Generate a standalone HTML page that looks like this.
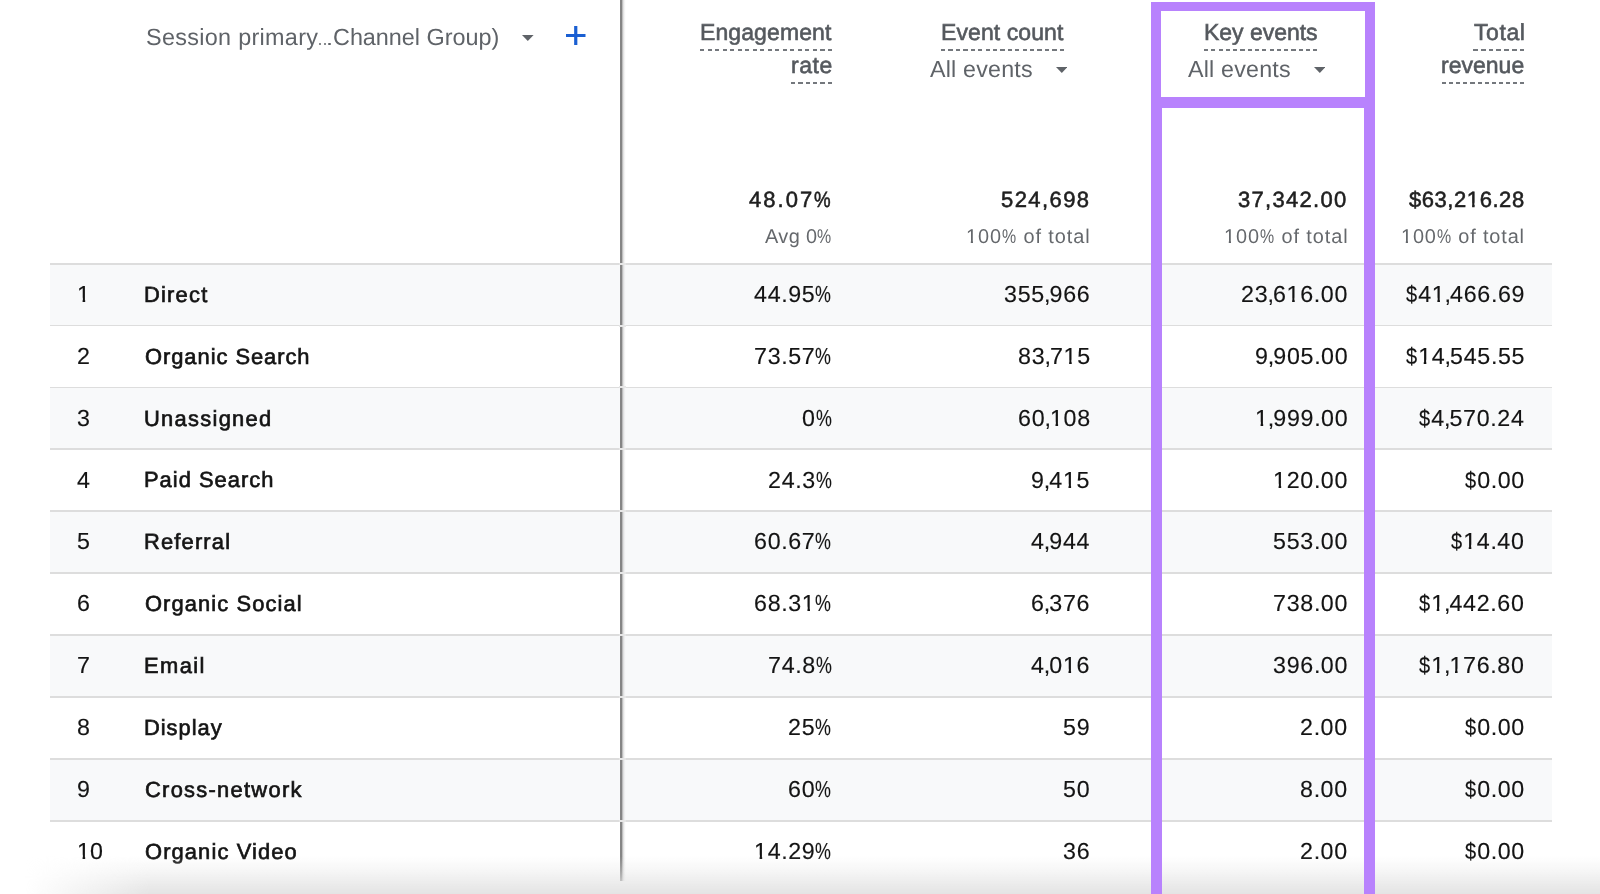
<!DOCTYPE html>
<html><head><meta charset="utf-8"><title>GA table</title>
<style>
html,body{margin:0;padding:0;background:#fff;}
html{overflow:hidden;width:1600px;height:894px;}
body{width:1600px;height:894px;overflow:hidden;position:relative;font-family:"Liberation Sans",sans-serif;text-rendering:geometricPrecision;}
.t{position:absolute;white-space:nowrap;line-height:normal;will-change:transform;}
.hdr{color:#55595e;-webkit-text-stroke:0.6px #55595e;}
.dim{color:#5f6368;}
.allev{color:#5f6368;}
.num{color:#141414;-webkit-text-stroke:0.15px #141414;}
.name{color:#141414;-webkit-text-stroke:0.65px #141414;}
.idx{color:#141414;-webkit-text-stroke:0.15px #141414;}
.tot{color:#1f1f1f;-webkit-text-stroke:0.55px #1f1f1f;}
.sub{color:#65686c;}
.pc{display:inline-block;}
.dl{display:inline-block;}
.dl span{display:inline-block;transform:scaleX(0.86);transform-origin:0 50%;}
.one{display:inline-block;clip-path:polygon(0 0,100% 0,100% 0.72em,0.352em 0.72em,0.352em 100%,0.240em 100%,0.240em 0.72em,0 0.72em);}
.pc span{display:inline-block;transform-origin:0 50%;}
.pcs{display:inline-block;transform-origin:0 50%;}
.dash{position:absolute;height:2.2px;}
.ic{position:absolute;display:block;}
.dot{position:absolute;width:2.7px;height:2.7px;border-radius:50%;background:#5f6368;}
.row{position:absolute;left:50px;width:1501.5px;}
.rb{position:absolute;left:50px;width:1501.5px;height:1.8px;background:#dddddd;}
.vdiv{position:absolute;left:619.8px;top:0;width:2px;height:881px;background:#858585;}
.vsh{position:absolute;left:621.8px;top:0;width:4.5px;height:881px;background:linear-gradient(90deg,rgba(150,150,150,.8),rgba(200,200,200,.45) 40%,rgba(235,235,235,.2) 75%,rgba(255,255,255,0));}
.gap{position:absolute;left:619px;width:7px;height:2px;background:#e6e6e6;}
.pb{position:absolute;background:#b882fd;}
.btm{position:absolute;left:0;top:856px;width:1600px;height:38px;background:linear-gradient(180deg,rgba(228,228,228,0) 0%,rgba(228,228,228,0.35) 40%,rgba(228,228,228,0.8) 80%,rgba(228,228,228,1) 100%);-webkit-mask-image:linear-gradient(90deg,transparent 25px,#000 150px);mask-image:linear-gradient(90deg,transparent 25px,#000 150px);}
</style></head><body>
<div class="row" style="top:263.70px;height:61.88px;background:#f8f9fa"></div>
<div class="row" style="top:325.58px;height:61.88px;background:#ffffff"></div>
<div class="row" style="top:387.46px;height:61.88px;background:#f8f9fa"></div>
<div class="row" style="top:449.34px;height:61.88px;background:#ffffff"></div>
<div class="row" style="top:511.22px;height:61.88px;background:#f8f9fa"></div>
<div class="row" style="top:573.10px;height:61.88px;background:#ffffff"></div>
<div class="row" style="top:634.98px;height:61.88px;background:#f8f9fa"></div>
<div class="row" style="top:696.86px;height:61.88px;background:#ffffff"></div>
<div class="row" style="top:758.74px;height:61.88px;background:#f8f9fa"></div>
<div class="row" style="top:820.62px;height:73.38px;background:#ffffff"></div>
<div class="rb" style="top:262.80px"></div>
<div class="rb" style="top:324.68px"></div>
<div class="rb" style="top:386.56px"></div>
<div class="rb" style="top:448.44px"></div>
<div class="rb" style="top:510.32px"></div>
<div class="rb" style="top:572.20px"></div>
<div class="rb" style="top:634.08px"></div>
<div class="rb" style="top:695.96px"></div>
<div class="rb" style="top:757.84px"></div>
<div class="rb" style="top:819.72px"></div>
<div id="sess1" class="t dim" style="left:145.56px;top:23.82px;font-size:23.4px;letter-spacing:0.303px">Session primary</div>
<div class="dot" style="left:318.65px;top:42.75px"></div>
<div class="dot" style="left:323.55px;top:42.75px"></div>
<div class="dot" style="left:328.40px;top:42.75px"></div>
<div id="sess2" class="t dim" style="left:332.67px;top:23.82px;font-size:23.4px;letter-spacing:-0.016px">Channel Group)</div>
<svg class="ic" style="left:522.00px;top:34.90px" width="11.6" height="6.0" viewBox="0 0 11.6 6.0"><path d="M0 0 L11.6 0 L5.8 6.0 Z" fill="#5f6368"/></svg>
<svg class="ic" style="left:566.0px;top:26.1px" width="19.5" height="19" viewBox="0 0 19.5 19"><path d="M0 9.5 H19.5 M9.75 0 V19" stroke="#1a5fd2" stroke-width="3.2" fill="none"/></svg>
<div id="eng" class="t hdr" style="right:768.54px;top:18.89px;font-size:23.0px;letter-spacing:0.101px">Engagement</div>
<div id="rate" class="t hdr" style="right:767.52px;top:52.48px;font-size:23.0px;letter-spacing:0.587px">rate</div>
<div class="dash" style="left:699.80px;top:48.60px;width:132.00px;background:repeating-linear-gradient(90deg,#74787d 0,#74787d 4.41px,transparent 4.41px,transparent 7.506px)"></div>
<div class="dash" style="left:790.80px;top:82.10px;width:41.00px;background:repeating-linear-gradient(90deg,#74787d 0,#74787d 4.25px,transparent 4.25px,transparent 7.350px)"></div>
<div id="evc" class="t hdr" style="right:537.01px;top:18.79px;font-size:23.0px;letter-spacing:0.084px">Event count</div>
<div class="dash" style="left:941.00px;top:48.70px;width:123.00px;background:repeating-linear-gradient(90deg,#74787d 0,#74787d 4.32px,transparent 4.32px,transparent 7.418px)"></div>
<div id="all1" class="t allev" style="left:929.68px;top:55.96px;font-size:23.25px;letter-spacing:0.196px">All events</div>
<svg class="ic" style="left:1055.90px;top:66.50px" width="11.6" height="6.0" viewBox="0 0 11.6 6.0"><path d="M0 0 L11.6 0 L5.8 6.0 Z" fill="#5f6368"/></svg>
<div id="key" class="t hdr" style="right:282.91px;top:18.58px;font-size:23.0px;letter-spacing:-0.024px">Key events</div>
<div class="dash" style="left:1203.50px;top:48.70px;width:113.50px;background:repeating-linear-gradient(90deg,#74787d 0,#74787d 4.19px,transparent 4.19px,transparent 7.287px)"></div>
<div id="all2" class="t allev" style="left:1187.68px;top:55.96px;font-size:23.25px;letter-spacing:0.196px">All events</div>
<svg class="ic" style="left:1313.70px;top:66.50px" width="11.6" height="6.0" viewBox="0 0 11.6 6.0"><path d="M0 0 L11.6 0 L5.8 6.0 Z" fill="#5f6368"/></svg>
<div id="total" class="t hdr" style="right:74.76px;top:18.89px;font-size:23.0px;letter-spacing:0.595px">Total</div>
<div id="rev" class="t hdr" style="right:75.52px;top:52.48px;font-size:23.0px;letter-spacing:0.016px">revenue</div>
<div class="dash" style="left:1472.50px;top:48.60px;width:51.50px;background:repeating-linear-gradient(90deg,#74787d 0,#74787d 4.70px,transparent 4.70px,transparent 7.800px)"></div>
<div class="dash" style="left:1441.60px;top:82.10px;width:82.40px;background:repeating-linear-gradient(90deg,#74787d 0,#74787d 4.03px,transparent 4.03px,transparent 7.125px)"></div>
<div id="tot1" class="t tot" style="right:767.27px;top:187.29px;font-size:22.0px;letter-spacing:2.053px">48.07<span class="pcs" style="transform:scaleX(0.85);margin-right:-2.93px">%</span></div>
<div id="sub1" class="t sub" style="right:768.38px;top:225.59px;font-size:19.9px;letter-spacing:0.394px">Avg 0<span class="pcs" style="transform:scaleX(0.8);margin-right:-3.54px">%</span></div>
<div id="tot2" class="t tot" style="right:509.96px;top:187.29px;font-size:22.0px;letter-spacing:1.418px">524,698</div>
<div id="sub2" class="t sub" style="right:509.98px;top:225.59px;font-size:19.9px;letter-spacing:0.918px"><span class="one">1</span>00<span class="pcs" style="transform:scaleX(0.8);margin-right:-3.54px">%</span> of total</div>
<div id="tot3" class="t tot" style="right:252.93px;top:187.29px;font-size:22.0px;letter-spacing:1.291px">37,342.00</div>
<div id="sub3" class="t sub" style="right:252.04px;top:225.59px;font-size:19.9px;letter-spacing:0.912px"><span class="one">1</span>00<span class="pcs" style="transform:scaleX(0.8);margin-right:-3.54px">%</span> of total</div>
<div id="tot4" class="t tot" style="right:75.58px;top:187.29px;font-size:22.0px;letter-spacing:0.555px">$63,2<span class="one">1</span>6.28</div>
<div id="sub4" class="t sub" style="right:74.87px;top:225.59px;font-size:19.9px;letter-spacing:0.870px"><span class="one">1</span>00<span class="pcs" style="transform:scaleX(0.8);margin-right:-3.54px">%</span> of total</div>
<div id="idx0" class="t idx" style="left:77.40px;top:280.96px;font-size:23.25px;letter-spacing:0.000px"><span class="one">1</span></div>
<div id="name0" class="t name" style="left:144.18px;top:281.78px;font-size:21.9px;letter-spacing:1.221px">Direct</div>
<div id="n0_0" class="t num" style="right:767.40px;top:280.96px;font-size:23.25px"><span style="letter-spacing:0.70px">4</span><span style="letter-spacing:0.70px">4</span><span style="letter-spacing:0.46px">.</span><span style="letter-spacing:0.70px">9</span><span style="letter-spacing:0.70px">5</span><span class="pc" style="width:17.09px"><span style="transform:scaleX(0.77)">%</span></span></div>
<div id="n0_1" class="t num" style="right:509.60px;top:280.96px;font-size:23.25px"><span style="letter-spacing:0.70px">3</span><span style="letter-spacing:0.70px">5</span><span style="letter-spacing:0.70px">5</span><span style="letter-spacing:-1.84px;position:relative;left:-0.9px">,</span><span style="letter-spacing:0.70px">9</span><span style="letter-spacing:0.70px">6</span><span style="letter-spacing:0.70px">6</span></div>
<div id="n0_2" class="t num" style="right:251.90px;top:280.96px;font-size:23.25px"><span style="letter-spacing:0.70px">2</span><span style="letter-spacing:0.70px">3</span><span style="letter-spacing:-1.84px;position:relative;left:-0.9px">,</span><span style="letter-spacing:0.70px">6</span><span class="one" style="letter-spacing:0.70px">1</span><span style="letter-spacing:0.70px">6</span><span style="letter-spacing:0.46px">.</span><span style="letter-spacing:0.70px">0</span><span style="letter-spacing:0.70px">0</span></div>
<div id="n0_3" class="t num" style="right:75.20px;top:280.96px;font-size:23.25px"><span class="dl" style="letter-spacing:-0.80px"><span>$</span></span><span style="letter-spacing:0.70px">4</span><span class="one" style="letter-spacing:0.70px">1</span><span style="letter-spacing:-1.84px;position:relative;left:-0.9px">,</span><span style="letter-spacing:0.70px">4</span><span style="letter-spacing:0.70px">6</span><span style="letter-spacing:0.70px">6</span><span style="letter-spacing:0.46px">.</span><span style="letter-spacing:0.70px">6</span><span style="letter-spacing:0.70px">9</span></div>
<div id="idx1" class="t idx" style="left:77.40px;top:342.84px;font-size:23.25px;letter-spacing:0.000px">2</div>
<div id="name1" class="t name" style="left:144.69px;top:343.66px;font-size:21.9px;letter-spacing:0.957px">Organic Search</div>
<div id="n1_0" class="t num" style="right:767.40px;top:342.84px;font-size:23.25px"><span style="letter-spacing:0.70px">7</span><span style="letter-spacing:0.70px">3</span><span style="letter-spacing:0.46px">.</span><span style="letter-spacing:0.70px">5</span><span style="letter-spacing:0.70px">7</span><span class="pc" style="width:17.09px"><span style="transform:scaleX(0.77)">%</span></span></div>
<div id="n1_1" class="t num" style="right:509.60px;top:342.84px;font-size:23.25px"><span style="letter-spacing:0.70px">8</span><span style="letter-spacing:0.70px">3</span><span style="letter-spacing:-1.84px;position:relative;left:-0.9px">,</span><span style="letter-spacing:0.70px">7</span><span class="one" style="letter-spacing:0.70px">1</span><span style="letter-spacing:0.70px">5</span></div>
<div id="n1_2" class="t num" style="right:251.90px;top:342.84px;font-size:23.25px"><span style="letter-spacing:0.70px">9</span><span style="letter-spacing:-1.84px;position:relative;left:-0.9px">,</span><span style="letter-spacing:0.70px">9</span><span style="letter-spacing:0.70px">0</span><span style="letter-spacing:0.70px">5</span><span style="letter-spacing:0.46px">.</span><span style="letter-spacing:0.70px">0</span><span style="letter-spacing:0.70px">0</span></div>
<div id="n1_3" class="t num" style="right:75.20px;top:342.84px;font-size:23.25px"><span class="dl" style="letter-spacing:-0.80px"><span>$</span></span><span class="one" style="letter-spacing:0.70px">1</span><span style="letter-spacing:0.70px">4</span><span style="letter-spacing:-1.84px;position:relative;left:-0.9px">,</span><span style="letter-spacing:0.70px">5</span><span style="letter-spacing:0.70px">4</span><span style="letter-spacing:0.70px">5</span><span style="letter-spacing:0.46px">.</span><span style="letter-spacing:0.70px">5</span><span style="letter-spacing:0.70px">5</span></div>
<div id="idx2" class="t idx" style="left:77.40px;top:404.72px;font-size:23.25px;letter-spacing:0.000px">3</div>
<div id="name2" class="t name" style="left:144.26px;top:405.54px;font-size:21.9px;letter-spacing:1.290px">Unassigned</div>
<div id="n2_0" class="t num" style="right:767.40px;top:404.72px;font-size:23.25px"><span style="letter-spacing:0.70px">0</span><span class="pc" style="width:17.09px"><span style="transform:scaleX(0.77)">%</span></span></div>
<div id="n2_1" class="t num" style="right:509.60px;top:404.72px;font-size:23.25px"><span style="letter-spacing:0.70px">6</span><span style="letter-spacing:0.70px">0</span><span style="letter-spacing:-1.84px;position:relative;left:-0.9px">,</span><span class="one" style="letter-spacing:0.70px">1</span><span style="letter-spacing:0.70px">0</span><span style="letter-spacing:0.70px">8</span></div>
<div id="n2_2" class="t num" style="right:251.90px;top:404.72px;font-size:23.25px"><span class="one" style="letter-spacing:0.70px">1</span><span style="letter-spacing:-1.84px;position:relative;left:-0.9px">,</span><span style="letter-spacing:0.70px">9</span><span style="letter-spacing:0.70px">9</span><span style="letter-spacing:0.70px">9</span><span style="letter-spacing:0.46px">.</span><span style="letter-spacing:0.70px">0</span><span style="letter-spacing:0.70px">0</span></div>
<div id="n2_3" class="t num" style="right:75.20px;top:404.72px;font-size:23.25px"><span class="dl" style="letter-spacing:-0.80px"><span>$</span></span><span style="letter-spacing:0.70px">4</span><span style="letter-spacing:-1.84px;position:relative;left:-0.9px">,</span><span style="letter-spacing:0.70px">5</span><span style="letter-spacing:0.70px">7</span><span style="letter-spacing:0.70px">0</span><span style="letter-spacing:0.46px">.</span><span style="letter-spacing:0.70px">2</span><span style="letter-spacing:0.70px">4</span></div>
<div id="idx3" class="t idx" style="left:77.40px;top:466.60px;font-size:23.25px;letter-spacing:0.000px">4</div>
<div id="name3" class="t name" style="left:144.18px;top:467.42px;font-size:21.9px;letter-spacing:1.009px">Paid Search</div>
<div id="n3_0" class="t num" style="right:767.40px;top:466.60px;font-size:23.25px"><span style="letter-spacing:0.70px">2</span><span style="letter-spacing:0.70px">4</span><span style="letter-spacing:0.46px">.</span><span style="letter-spacing:0.70px">3</span><span class="pc" style="width:17.09px"><span style="transform:scaleX(0.77)">%</span></span></div>
<div id="n3_1" class="t num" style="right:509.60px;top:466.60px;font-size:23.25px"><span style="letter-spacing:0.70px">9</span><span style="letter-spacing:-1.84px;position:relative;left:-0.9px">,</span><span style="letter-spacing:0.70px">4</span><span class="one" style="letter-spacing:0.70px">1</span><span style="letter-spacing:0.70px">5</span></div>
<div id="n3_2" class="t num" style="right:251.90px;top:466.60px;font-size:23.25px"><span class="one" style="letter-spacing:0.70px">1</span><span style="letter-spacing:0.70px">2</span><span style="letter-spacing:0.70px">0</span><span style="letter-spacing:0.46px">.</span><span style="letter-spacing:0.70px">0</span><span style="letter-spacing:0.70px">0</span></div>
<div id="n3_3" class="t num" style="right:75.20px;top:466.60px;font-size:23.25px"><span class="dl" style="letter-spacing:-0.80px"><span>$</span></span><span style="letter-spacing:0.70px">0</span><span style="letter-spacing:0.46px">.</span><span style="letter-spacing:0.70px">0</span><span style="letter-spacing:0.70px">0</span></div>
<div id="idx4" class="t idx" style="left:77.40px;top:528.48px;font-size:23.25px;letter-spacing:0.000px">5</div>
<div id="name4" class="t name" style="left:144.18px;top:529.30px;font-size:21.9px;letter-spacing:1.164px">Referral</div>
<div id="n4_0" class="t num" style="right:767.40px;top:528.48px;font-size:23.25px"><span style="letter-spacing:0.70px">6</span><span style="letter-spacing:0.70px">0</span><span style="letter-spacing:0.46px">.</span><span style="letter-spacing:0.70px">6</span><span style="letter-spacing:0.70px">7</span><span class="pc" style="width:17.09px"><span style="transform:scaleX(0.77)">%</span></span></div>
<div id="n4_1" class="t num" style="right:509.60px;top:528.48px;font-size:23.25px"><span style="letter-spacing:0.70px">4</span><span style="letter-spacing:-1.84px;position:relative;left:-0.9px">,</span><span style="letter-spacing:0.70px">9</span><span style="letter-spacing:0.70px">4</span><span style="letter-spacing:0.70px">4</span></div>
<div id="n4_2" class="t num" style="right:251.90px;top:528.48px;font-size:23.25px"><span style="letter-spacing:0.70px">5</span><span style="letter-spacing:0.70px">5</span><span style="letter-spacing:0.70px">3</span><span style="letter-spacing:0.46px">.</span><span style="letter-spacing:0.70px">0</span><span style="letter-spacing:0.70px">0</span></div>
<div id="n4_3" class="t num" style="right:75.20px;top:528.48px;font-size:23.25px"><span class="dl" style="letter-spacing:-0.80px"><span>$</span></span><span class="one" style="letter-spacing:0.70px">1</span><span style="letter-spacing:0.70px">4</span><span style="letter-spacing:0.46px">.</span><span style="letter-spacing:0.70px">4</span><span style="letter-spacing:0.70px">0</span></div>
<div id="idx5" class="t idx" style="left:77.40px;top:590.36px;font-size:23.25px;letter-spacing:0.000px">6</div>
<div id="name5" class="t name" style="left:144.69px;top:591.18px;font-size:21.9px;letter-spacing:1.091px">Organic Social</div>
<div id="n5_0" class="t num" style="right:767.40px;top:590.36px;font-size:23.25px"><span style="letter-spacing:0.70px">6</span><span style="letter-spacing:0.70px">8</span><span style="letter-spacing:0.46px">.</span><span style="letter-spacing:0.70px">3</span><span class="one" style="letter-spacing:0.70px">1</span><span class="pc" style="width:17.09px"><span style="transform:scaleX(0.77)">%</span></span></div>
<div id="n5_1" class="t num" style="right:509.60px;top:590.36px;font-size:23.25px"><span style="letter-spacing:0.70px">6</span><span style="letter-spacing:-1.84px;position:relative;left:-0.9px">,</span><span style="letter-spacing:0.70px">3</span><span style="letter-spacing:0.70px">7</span><span style="letter-spacing:0.70px">6</span></div>
<div id="n5_2" class="t num" style="right:251.90px;top:590.36px;font-size:23.25px"><span style="letter-spacing:0.70px">7</span><span style="letter-spacing:0.70px">3</span><span style="letter-spacing:0.70px">8</span><span style="letter-spacing:0.46px">.</span><span style="letter-spacing:0.70px">0</span><span style="letter-spacing:0.70px">0</span></div>
<div id="n5_3" class="t num" style="right:75.20px;top:590.36px;font-size:23.25px"><span class="dl" style="letter-spacing:-0.80px"><span>$</span></span><span class="one" style="letter-spacing:0.70px">1</span><span style="letter-spacing:-1.84px;position:relative;left:-0.9px">,</span><span style="letter-spacing:0.70px">4</span><span style="letter-spacing:0.70px">4</span><span style="letter-spacing:0.70px">2</span><span style="letter-spacing:0.46px">.</span><span style="letter-spacing:0.70px">6</span><span style="letter-spacing:0.70px">0</span></div>
<div id="idx6" class="t idx" style="left:77.40px;top:652.24px;font-size:23.25px;letter-spacing:0.000px">7</div>
<div id="name6" class="t name" style="left:144.18px;top:653.06px;font-size:21.9px;letter-spacing:1.419px">Email</div>
<div id="n6_0" class="t num" style="right:767.40px;top:652.24px;font-size:23.25px"><span style="letter-spacing:0.70px">7</span><span style="letter-spacing:0.70px">4</span><span style="letter-spacing:0.46px">.</span><span style="letter-spacing:0.70px">8</span><span class="pc" style="width:17.09px"><span style="transform:scaleX(0.77)">%</span></span></div>
<div id="n6_1" class="t num" style="right:509.60px;top:652.24px;font-size:23.25px"><span style="letter-spacing:0.70px">4</span><span style="letter-spacing:-1.84px;position:relative;left:-0.9px">,</span><span style="letter-spacing:0.70px">0</span><span class="one" style="letter-spacing:0.70px">1</span><span style="letter-spacing:0.70px">6</span></div>
<div id="n6_2" class="t num" style="right:251.90px;top:652.24px;font-size:23.25px"><span style="letter-spacing:0.70px">3</span><span style="letter-spacing:0.70px">9</span><span style="letter-spacing:0.70px">6</span><span style="letter-spacing:0.46px">.</span><span style="letter-spacing:0.70px">0</span><span style="letter-spacing:0.70px">0</span></div>
<div id="n6_3" class="t num" style="right:75.20px;top:652.24px;font-size:23.25px"><span class="dl" style="letter-spacing:-0.80px"><span>$</span></span><span class="one" style="letter-spacing:0.70px">1</span><span style="letter-spacing:-1.84px;position:relative;left:-0.9px">,</span><span class="one" style="letter-spacing:0.70px">1</span><span style="letter-spacing:0.70px">7</span><span style="letter-spacing:0.70px">6</span><span style="letter-spacing:0.46px">.</span><span style="letter-spacing:0.70px">8</span><span style="letter-spacing:0.70px">0</span></div>
<div id="idx7" class="t idx" style="left:77.40px;top:714.12px;font-size:23.25px;letter-spacing:0.000px">8</div>
<div id="name7" class="t name" style="left:144.18px;top:714.94px;font-size:21.9px;letter-spacing:0.974px">Display</div>
<div id="n7_0" class="t num" style="right:767.40px;top:714.12px;font-size:23.25px"><span style="letter-spacing:0.70px">2</span><span style="letter-spacing:0.70px">5</span><span class="pc" style="width:17.09px"><span style="transform:scaleX(0.77)">%</span></span></div>
<div id="n7_1" class="t num" style="right:509.60px;top:714.12px;font-size:23.25px"><span style="letter-spacing:0.70px">5</span><span style="letter-spacing:0.70px">9</span></div>
<div id="n7_2" class="t num" style="right:251.90px;top:714.12px;font-size:23.25px"><span style="letter-spacing:0.70px">2</span><span style="letter-spacing:0.46px">.</span><span style="letter-spacing:0.70px">0</span><span style="letter-spacing:0.70px">0</span></div>
<div id="n7_3" class="t num" style="right:75.20px;top:714.12px;font-size:23.25px"><span class="dl" style="letter-spacing:-0.80px"><span>$</span></span><span style="letter-spacing:0.70px">0</span><span style="letter-spacing:0.46px">.</span><span style="letter-spacing:0.70px">0</span><span style="letter-spacing:0.70px">0</span></div>
<div id="idx8" class="t idx" style="left:77.40px;top:776.00px;font-size:23.25px;letter-spacing:0.000px">9</div>
<div id="name8" class="t name" style="left:144.56px;top:776.82px;font-size:21.9px;letter-spacing:1.275px">Cross-network</div>
<div id="n8_0" class="t num" style="right:767.40px;top:776.00px;font-size:23.25px"><span style="letter-spacing:0.70px">6</span><span style="letter-spacing:0.70px">0</span><span class="pc" style="width:17.09px"><span style="transform:scaleX(0.77)">%</span></span></div>
<div id="n8_1" class="t num" style="right:509.60px;top:776.00px;font-size:23.25px"><span style="letter-spacing:0.70px">5</span><span style="letter-spacing:0.70px">0</span></div>
<div id="n8_2" class="t num" style="right:251.90px;top:776.00px;font-size:23.25px"><span style="letter-spacing:0.70px">8</span><span style="letter-spacing:0.46px">.</span><span style="letter-spacing:0.70px">0</span><span style="letter-spacing:0.70px">0</span></div>
<div id="n8_3" class="t num" style="right:75.20px;top:776.00px;font-size:23.25px"><span class="dl" style="letter-spacing:-0.80px"><span>$</span></span><span style="letter-spacing:0.70px">0</span><span style="letter-spacing:0.46px">.</span><span style="letter-spacing:0.70px">0</span><span style="letter-spacing:0.70px">0</span></div>
<div id="idx9" class="t idx" style="left:77.40px;top:837.88px;font-size:23.25px;letter-spacing:0.000px"><span class="one">1</span>0</div>
<div id="name9" class="t name" style="left:144.69px;top:838.70px;font-size:21.9px;letter-spacing:1.113px">Organic Video</div>
<div id="n9_0" class="t num" style="right:767.40px;top:837.88px;font-size:23.25px"><span class="one" style="letter-spacing:0.70px">1</span><span style="letter-spacing:0.70px">4</span><span style="letter-spacing:0.46px">.</span><span style="letter-spacing:0.70px">2</span><span style="letter-spacing:0.70px">9</span><span class="pc" style="width:17.09px"><span style="transform:scaleX(0.77)">%</span></span></div>
<div id="n9_1" class="t num" style="right:509.60px;top:837.88px;font-size:23.25px"><span style="letter-spacing:0.70px">3</span><span style="letter-spacing:0.70px">6</span></div>
<div id="n9_2" class="t num" style="right:251.90px;top:837.88px;font-size:23.25px"><span style="letter-spacing:0.70px">2</span><span style="letter-spacing:0.46px">.</span><span style="letter-spacing:0.70px">0</span><span style="letter-spacing:0.70px">0</span></div>
<div id="n9_3" class="t num" style="right:75.20px;top:837.88px;font-size:23.25px"><span class="dl" style="letter-spacing:-0.80px"><span>$</span></span><span style="letter-spacing:0.70px">0</span><span style="letter-spacing:0.46px">.</span><span style="letter-spacing:0.70px">0</span><span style="letter-spacing:0.70px">0</span></div>
<div class="vdiv"></div><div class="vsh"></div>
<div class="gap" style="top:262.70px"></div>
<div class="gap" style="top:324.58px"></div>
<div class="gap" style="top:386.46px"></div>
<div class="gap" style="top:448.34px"></div>
<div class="gap" style="top:510.22px"></div>
<div class="gap" style="top:572.10px"></div>
<div class="gap" style="top:633.98px"></div>
<div class="gap" style="top:695.86px"></div>
<div class="gap" style="top:757.74px"></div>
<div class="gap" style="top:819.62px"></div>
<div class="btm"></div>
<div class="pb" style="left:1151.3px;top:2px;width:223.5px;height:9px"></div>
<div class="pb" style="left:1151.3px;top:2px;width:9.6px;height:892px"></div>
<div class="pb" style="left:1365.2px;top:2px;width:9.6px;height:892px"></div>
<div class="pb" style="left:1151.3px;top:96.8px;width:223.5px;height:10.8px"></div>
<div class="pb" style="left:1151.3px;top:96.8px;width:11.2px;height:797.2px"></div>
<div class="pb" style="left:1363.8px;top:96.8px;width:11px;height:797.2px"></div>
</body></html>
